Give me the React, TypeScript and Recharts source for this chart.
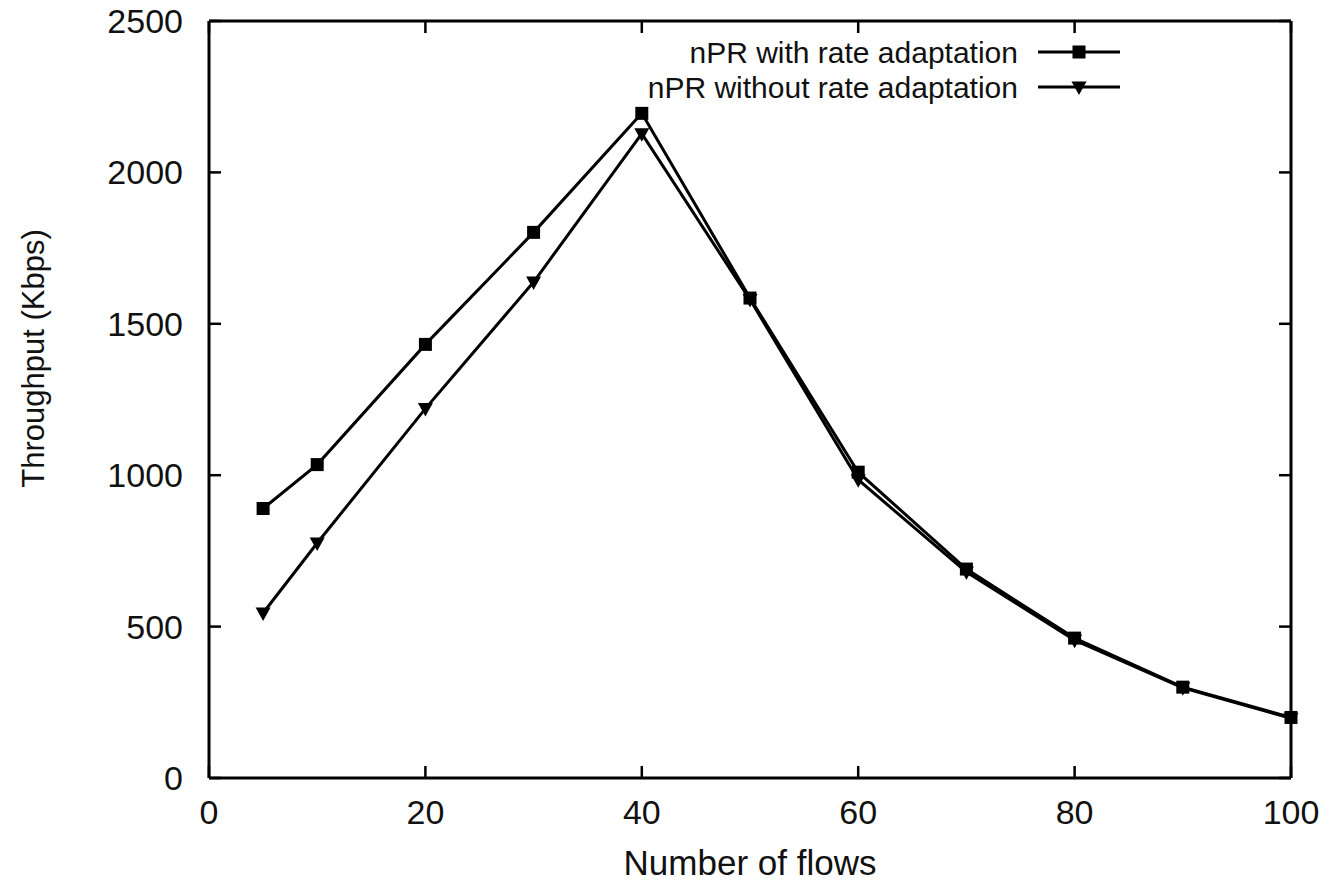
import React from "react";
import { LineChart, Line, XAxis, YAxis, Legend } from "recharts";

const flows = [5, 10, 20, 30, 40, 50, 60, 70, 80, 90, 100];
const withRA = [890, 1035, 1432, 1802, 2195, 1585, 1010, 690, 462, 300, 200];
const withoutRA = [545, 776, 1220, 1638, 2128, 1580, 985, 680, 455, 298, 197];
const xTicks = [0, 20, 40, 60, 80, 100];
const yTicks = [0, 500, 1000, 1500, 2000, 2500];
const seriesNames = ["nPR with rate adaptation", "nPR without rate adaptation"];

const data = flows.map((f, i) => ({ flows: f, withRA: withRA[i], withoutRA: withoutRA[i] }));

const FONT = "'Liberation Sans', Arial, Helvetica, sans-serif";
const INK = "#111";
const TICK_LEN = 12;

const BottomTick = (props: any) => {
  const { x, y, payload } = props;
  return (
    <g>
      <line x1={x} x2={x} y1={y} y2={y - TICK_LEN} stroke="#000" strokeWidth={2.5} />
      <text x={x} y={y + 46} textAnchor="middle" fontSize={34} fill={INK} fontFamily={FONT}>
        {payload.value}
      </text>
    </g>
  );
};

const TopTick = (props: any) => {
  const { x, y } = props;
  return <line x1={x} x2={x} y1={y} y2={y + TICK_LEN} stroke="#000" strokeWidth={2.5} />;
};

const LeftTick = (props: any) => {
  const { x, y, payload } = props;
  return (
    <g>
      <line x1={x} x2={x + TICK_LEN} y1={y} y2={y} stroke="#000" strokeWidth={2.5} />
      <text x={x - 26} y={y + 12} textAnchor="end" fontSize={34} fill={INK} fontFamily={FONT}>
        {payload.value}
      </text>
    </g>
  );
};

const RightTick = (props: any) => {
  const { x, y } = props;
  return <line x1={x} x2={x - TICK_LEN} y1={y} y2={y} stroke="#000" strokeWidth={2.5} />;
};

const SquareDot = (props: any) => {
  const { cx, cy, index } = props;
  if (cx == null || cy == null) return <g key={index} />;
  return <rect key={index} x={cx - 6.5} y={cy - 6.5} width={13} height={13} fill="#000" />;
};

const TriDot = (props: any) => {
  const { cx, cy, index } = props;
  if (cx == null || cy == null) return <g key={index} />;
  return (
    <path
      key={index}
      d={`M${cx - 7.5},${cy - 5.5} L${cx + 7.5},${cy - 5.5} L${cx},${cy + 8} Z`}
      fill="#000"
    />
  );
};

const LegendContent = () => {
  const rows = [52, 87];
  return (
    <svg width={1331} height={110} style={{ display: "block" }}>
      {seriesNames.map((name, i) => (
        <g key={name}>
          <text
            x={1018}
            y={rows[i] + 10.5}
            textAnchor="end"
            fontSize={30}
            fill={INK}
            fontFamily={FONT}
          >
            {name}
          </text>
          <line x1={1038} x2={1120} y1={rows[i]} y2={rows[i]} stroke="#000" strokeWidth={3} />
          {i === 0 ? (
            <rect x={1079 - 6.5} y={rows[i] - 6.5} width={13} height={13} fill="#000" />
          ) : (
            <path
              d={`M${1079 - 7.5},${rows[i] - 5.5} L${1079 + 7.5},${rows[i] - 5.5} L${1079},${rows[i] + 8} Z`}
              fill="#000"
            />
          )}
        </g>
      ))}
    </svg>
  );
};

const YLabel = (props: any) => {
  const { viewBox } = props;
  const cx = 33;
  const cy = viewBox.y + viewBox.height / 2 - 41;
  return (
    <text
      x={cx}
      y={cy}
      transform={`rotate(-90, ${cx}, ${cy})`}
      textAnchor="middle"
      dominantBaseline="central"
      fontSize={31}
      fill={INK}
      fontFamily={FONT}
    >
      Throughput (Kbps)
    </text>
  );
};

const XLabel = (props: any) => {
  const { viewBox } = props;
  const cx = viewBox.x + viewBox.width / 2;
  return (
    <text x={cx} y={875} textAnchor="middle" fontSize={35} fill={INK} fontFamily={FONT}>
      Number of flows
    </text>
  );
};

export default function App() {
  const axisLine = { stroke: "#000", strokeWidth: 3 };
  return (
    <div style={{ position: "absolute", left: 0, top: 0, width: 1331, height: 885, background: "#fff" }}>
      <LineChart
        width={1331}
        height={885}
        data={data}
        margin={{ top: 20, right: 39, left: 0, bottom: 0 }}
      >
        <XAxis
          xAxisId="b"
          dataKey="flows"
          type="number"
          domain={[0, 100]}
          ticks={xTicks}
          height={107}
          tickLine={false}
          tickSize={0}
          tickMargin={0}
          axisLine={axisLine}
          tick={BottomTick}
          interval={0}
          label={<XLabel />}
        />
        <XAxis
          xAxisId="t"
          orientation="top"
          dataKey="flows"
          type="number"
          domain={[0, 100]}
          ticks={xTicks}
          height={1}
          tickLine={false}
          tickSize={0}
          tickMargin={0}
          axisLine={axisLine}
          tick={TopTick}
          interval={0}
        />
        <YAxis
          yAxisId="l"
          type="number"
          domain={[0, 2500]}
          ticks={yTicks}
          width={209}
          tickLine={false}
          tickSize={0}
          tickMargin={0}
          axisLine={axisLine}
          tick={LeftTick}
          interval={0}
          label={<YLabel />}
        />
        <YAxis
          yAxisId="r"
          orientation="right"
          type="number"
          domain={[0, 2500]}
          ticks={yTicks}
          width={1}
          tickLine={false}
          tickSize={0}
          tickMargin={0}
          axisLine={axisLine}
          tick={RightTick}
          interval={0}
        />
        <Legend
          layout="vertical"
          align="center"
          verticalAlign="middle"
          content={<LegendContent />}
          wrapperStyle={{ position: "absolute", left: 0, top: 0, width: 1331, height: 110 }}
        />
        <Line
          xAxisId="t"
          yAxisId="r"
          type="linear"
          dataKey="withRA"
          stroke="none"
          strokeOpacity={0}
          dot={false}
          activeDot={false}
          legendType="none"
          isAnimationActive={false}
        />
        <Line
          xAxisId="b"
          yAxisId="l"
          type="linear"
          dataKey="withoutRA"
          name={seriesNames[1]}
          stroke="#000"
          strokeWidth={3}
          dot={TriDot}
          activeDot={false}
          isAnimationActive={false}
        />
        <Line
          xAxisId="b"
          yAxisId="l"
          type="linear"
          dataKey="withRA"
          name={seriesNames[0]}
          stroke="#000"
          strokeWidth={3}
          dot={SquareDot}
          activeDot={false}
          isAnimationActive={false}
        />
      </LineChart>
    </div>
  );
}
